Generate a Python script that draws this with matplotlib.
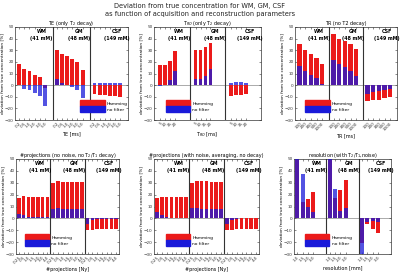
import numpy as np
import matplotlib
matplotlib.use("Agg")
import matplotlib.pyplot as plt
from matplotlib.patches import Patch

# tissue groups
tissues = ["WM", "GM", "CSF"]
concentrations = ["41 mM", "48 mM", "149 mM"]

# TE (only T2 decay)
te_labels = ["0.2", "0.5", "1.0", "2.0", "3.0", "5.0"]
te_hamming = [[18, 13.7, 12, 9, 6.6, -2.5],
              [30, 26.5, 25, 22.5, 20, 13],
              [-8, -8.5, -8.5, -9, -9, -10]]
te_nofilter = [[0.5, -3, -4.5, -7, -9.5, -18],
               [5, 2, 0.5, -2, -4, -11],
               [2, 2, 2, 2, 2, 1.5]]

# T_RO (only T2 decay)
tro_labels = ["5", "10", "15", "20"]
tro_hamming = [[17, 17.7, 21, 29],
               [30, 30.5, 32.5, 36.6],
               [-9, -8.5, -8.5, -8]]
tro_nofilter = [[-1, 0.5, 4, 12],
                [5.5, 5.5, 8, 14],
                [2, 2.5, 2.5, 1.5]]

# TR (no T2 decay)
tr_labels = ["100", "200", "300", "500", "1000"]
tr_hamming = [[35, 30.5, 27, 23.7, 18.6],
              [43.7, 40, 37.7, 35, 31.4],
              [-13.5, -13, -12.5, -11.5, -10]]
tr_nofilter = [[16.5, 12.5, 9, 6, 1],
               [22, 18, 15.5, 12.5, 8],
               [-7.5, -6, -5, -4, -3]]

# #projections (no noise, no T2/T1 decay)
proj_labels = ["0.25", "0.5", "1.0", "1.5", "2.0", "3.0", "4.0"]
proj_hamming = [[17.4, 18.5, 18, 18, 18, 18, 18],
                [29.5, 31.5, 31, 31, 31, 31, 31],
                [-10, -9.5, -9, -9, -9, -9, -9]]
proj_nofilter = [[4, 2.5, 1, 1, 1, 1, 1],
                 [8, 9, 7.5, 7.5, 7.5, 8, 8],
                 [-5, -1, -0.5, -0.5, -0.5, -0.5, -0.5]]

# #projections (with noise, averaging, no decay)
projn_hamming = [[17, 18, 18, 18.3, 18.3, 18, 18],
                 [29.5, 31.5, 31.5, 31.5, 31, 31, 31],
                 [-10, -9.5, -9, -9, -9, -9, -9]]
projn_nofilter = [[5, 3, 1, 0.5, 0.5, 0.5, 0.5],
                  [8.5, 9, 8, 8, 8, 8, 8],
                  [-5, -1.5, -0.5, 0.5, 0.5, 0.5, 0.5]]

# resolution (with T2/T1, noise)
res_labels = ["1.0", "1.5", "2.0", "3.0"]
res_hamming = [[62, 14, 16, 22],
               [62, 17, 23.5, 32.5],
               [-21, -5, -9, -12]]
res_nofilter = [[62, 37, 9.5, 5],
                [62, 24.5, 6, 9],
                [-34, -3, -2, -3]]

RED = (0.92, 0.1, 0.1)
BLUE = (0.1, 0.1, 0.85)

panels = [
    ("TE (only T$_2$ decay)", "TE [ms]", te_labels, te_hamming, te_nofilter,
     [15, 27, 128, 120], 7.3, 0.8, 0.55),
    ("T$_{RO}$ (only T$_2$ decay)", "T$_{RO}$ [ms]", tro_labels, tro_hamming, tro_nofilter,
     [154, 27, 261, 120], 7.2, 1.2, 0.08),
    ("TR (no T2 decay)", "TR [ms]", tr_labels, tr_hamming, tr_nofilter,
     [295, 27, 397, 120], 6.0, 0.8, 0.07),
    ("#projections (no noise, no T$_2$/T$_1$ decay)", "#projections [Ny]", proj_labels,
     proj_hamming, proj_nofilter, [16, 159, 119, 254], 7.2, 0.6, 0.055),
    ("#projections (with noise, averaging, no decay)", "#projections [Ny]", proj_labels,
     projn_hamming, projn_nofilter, [154, 159, 259, 254], 7.2, 0.6, 0.08),
    ("resolution (with T$_2$/T$_1$,noise)", "resolution [mm]", res_labels,
     res_hamming, res_nofilter, [294, 159, 391, 254], 6.0, 0.6, 0.08),
]

W, H = 400, 273
fig = plt.figure(figsize=(W / 100, H / 100), dpi=100)

fig.text(0.5, 1 - 6 / H, "Deviation from true concentration for WM, GM, CSF",
         ha="center", va="center", fontsize=4.8, color="#222222")
fig.text(0.5, 1 - 14 / H, "as function of acquisition and reconstruction parameters",
         ha="center", va="center", fontsize=4.8, color="#222222")

for title, xlabel, labels, ham, nof, box, span, offset, legx in panels:
    x0, y0, x1, y1 = box
    ax = fig.add_axes([x0 / W, 1 - y1 / H, (x1 - x0) / W, (y1 - y0) / H])
    n = len(labels)
    ticks, ticklabels = [], []
    for g in range(3):
        pos = g * span + offset + np.arange(n)
        ax.bar(pos, ham[g], width=0.75, color=RED, zorder=2)
        ax.bar(pos, nof[g], width=0.75, color=BLUE, alpha=0.75, zorder=3)
        ticks.extend(pos)
        ticklabels.extend(labels)
        cx = g * span + span * 0.7
        ax.text(cx, 48.5, tissues[g], ha="center", va="top", fontsize=3.4,
                fontweight="bold", zorder=5)
        ax.text(cx, 42.5, "(" + concentrations[g] + ")", ha="center", va="top",
                fontsize=3.4, fontweight="bold", zorder=5)
        if g > 0:
            ax.axvline(g * span, color="#333333", lw=0.8, zorder=4)
    ax.axhline(0, color="#888888", lw=0.5, zorder=1)
    ax.set_xlim(0, 3 * span)
    ax.set_ylim(-30, 50)
    ax.set_yticks(np.arange(-30, 51, 10))
    ax.set_xticks(ticks)
    ax.set_xticklabels(ticklabels, rotation=45, ha="right", rotation_mode="anchor")
    ax.tick_params(axis="both", labelsize=3.0, length=1.2, width=0.4, pad=1,
                   direction="in", top=True, right=True, colors="#333333")
    for s in ax.spines.values():
        s.set_linewidth(0.5)
        s.set_color("#333333")
    ax.set_title(title, fontsize=3.5, pad=1.5)
    ax.set_xlabel(xlabel, fontsize=3.5, labelpad=1.5)
    ax.set_ylabel("deviation from true concentration [%]", fontsize=3.1, labelpad=0.5)
    handles = [Patch(color=RED, label="Hamming"), Patch(color=BLUE, label="no filter")]
    ax.legend(handles=handles, loc="lower left", bbox_to_anchor=(legx, 0.05),
              fontsize=3.2, frameon=False, handlelength=5.5, handleheight=1.7,
              labelspacing=0.0, borderpad=0.2, handletextpad=0.5)

fig.savefig("out.png", dpi=100)
